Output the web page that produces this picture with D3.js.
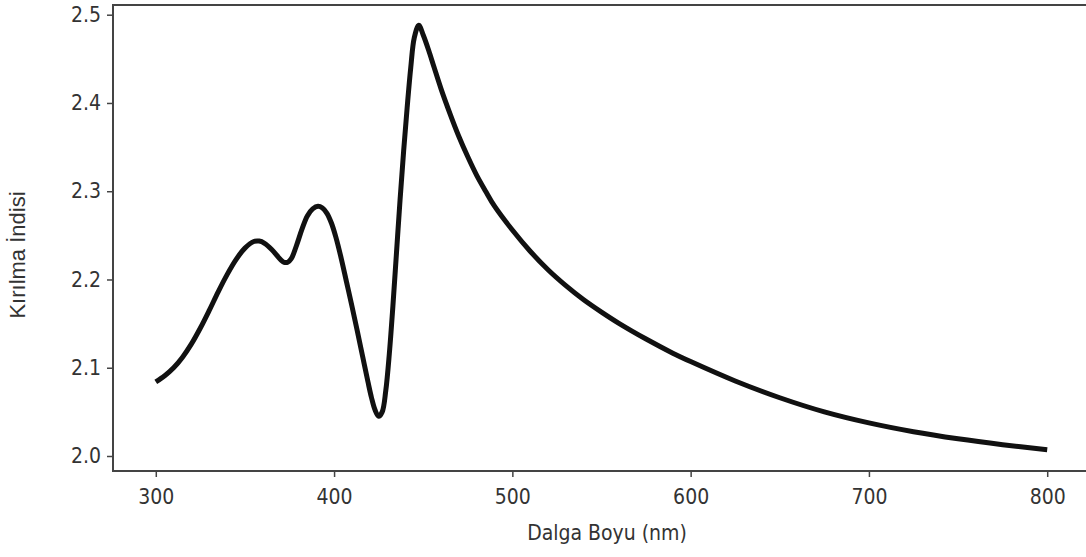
<!DOCTYPE html>
<html>
<head>
<meta charset="utf-8">
<script src="https://cdn.jsdelivr.net/npm/d3@7"></script>
<style>
  body { margin: 0; background: #fff; }
  .axis text { font-family: "DejaVu Sans Condensed", "DejaVu Sans", sans-serif; font-size: 21px; fill: #333; }
  .axis line { stroke: #444; stroke-width: 1.5; }
  .axis path { display: none; }
</style>
</head>
<body>
<div id="chart"></div>
<script>
// wavelength (nm) and refractive index
const wavelength = [300, 305, 310, 315, 320, 325, 330, 335, 340, 345, 350, 355, 358, 361, 365, 370,
  372, 374, 376, 379, 382, 385, 388, 391, 393.5, 396, 398.5, 401, 404, 407, 410, 413, 416, 419, 421,
  423, 425, 427, 429, 431, 433, 435, 437, 439, 441, 443, 445, 447.5, 450, 453, 456, 460, 465, 470,
  475, 480, 485, 490, 500, 510, 520, 530, 540, 550, 560, 575, 590, 600, 625, 650, 675, 700, 725, 750,
  775, 800];
const refIndex = [2.084, 2.091, 2.100, 2.112, 2.127, 2.145, 2.165, 2.186, 2.2055, 2.2225, 2.2355, 2.243,
  2.2435, 2.241, 2.234, 2.2225, 2.2195, 2.2195, 2.2235, 2.239, 2.257, 2.272, 2.280, 2.283, 2.281,
  2.275, 2.264, 2.248, 2.224, 2.197, 2.170, 2.142, 2.113, 2.084, 2.066, 2.052, 2.045, 2.050, 2.074,
  2.116, 2.170, 2.230, 2.290, 2.345, 2.395, 2.440, 2.474, 2.488, 2.477, 2.460, 2.441, 2.416, 2.388,
  2.362, 2.339, 2.318, 2.300, 2.283, 2.256, 2.232, 2.211, 2.193, 2.177, 2.163, 2.150, 2.1325, 2.1165,
  2.107, 2.085, 2.066, 2.050, 2.0375, 2.0275, 2.0195, 2.0128, 2.007];

const xTicks = [300, 400, 500, 600, 700, 800];
const yTicks = [2.0, 2.1, 2.2, 2.3, 2.4, 2.5];

const xLabel = 'Dalga Boyu (nm)';
const yLabel = 'Kırılma İndisi';

const width = 1086, height = 557;
const plot = { left: 113, top: 5, right: 1090, bottom: 471 };

const svg = d3.select('#chart').append('svg')
  .attr('width', width)
  .attr('height', height);

const xScale = d3.scaleLinear().domain([276, 824]).range([plot.left, plot.right]);
const yScale = d3.scaleLinear().domain([1.983, 2.511]).range([plot.bottom, plot.top]);

const data = wavelength.map((w, i) => ({ w: w, n: refIndex[i] }));

// curve
const line = d3.line()
  .x(d => xScale(d.w))
  .y(d => yScale(d.n))
  .curve(d3.curveCatmullRom.alpha(0.5));

svg.append('path')
  .datum(data)
  .attr('d', line)
  .attr('fill', 'none')
  .attr('stroke', '#111')
  .attr('stroke-width', 5);

// frame
svg.append('rect')
  .attr('x', plot.left)
  .attr('y', plot.top)
  .attr('width', plot.right - plot.left)
  .attr('height', plot.bottom - plot.top)
  .attr('fill', 'none')
  .attr('stroke', '#444')
  .attr('stroke-width', 2);

// axes
svg.append('g')
  .attr('class', 'axis x-axis')
  .attr('transform', `translate(0, ${plot.bottom})`)
  .call(d3.axisBottom(xScale).tickValues(xTicks).tickSize(6).tickPadding(12).tickFormat(d3.format('d')));

svg.append('g')
  .attr('class', 'axis y-axis')
  .attr('transform', `translate(${plot.left}, 0)`)
  .call(d3.axisLeft(yScale).tickValues(yTicks).tickSize(6).tickPadding(6).tickFormat(d3.format('.1f')));

// axis titles
svg.append('text')
  .attr('x', 607)
  .attr('y', 540)
  .attr('text-anchor', 'middle')
  .attr('font-family', '"DejaVu Sans Condensed", "DejaVu Sans", sans-serif')
  .attr('font-size', 21)
  .attr('fill', '#333')
  .text(xLabel);

svg.append('text')
  .attr('transform', 'translate(25, 255) rotate(-90)')
  .attr('text-anchor', 'middle')
  .attr('font-family', '"Liberation Sans", Arial, sans-serif')
  .attr('font-size', 22)
  .attr('fill', '#333')
  .text(yLabel);
</script>
</body>
</html>
